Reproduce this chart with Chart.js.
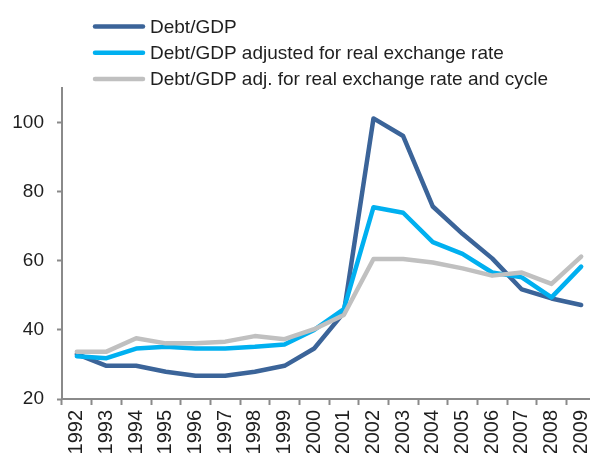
<!DOCTYPE html>
<html>
<head>
<meta charset="utf-8">
<title>Debt/GDP</title>
<script src="https://cdn.jsdelivr.net/npm/chart.js@4/dist/chart.umd.min.js"></script>
<style>
  html, body { margin: 0; padding: 0; background: #fff; overflow: hidden; }
  #wrap { width: 598px; height: 453px; }
</style>
</head>
<body>
<div id="wrap"><canvas id="debtChart" width="598" height="453"></canvas></div>
<script>
// Years on the x axis
const years = ['1992', '1993', '1994', '1995', '1996', '1997', '1998', '1999', '2000',
  '2001', '2002', '2003', '2004', '2005', '2006', '2007', '2008', '2009'];

// Series values (percent of GDP)
const debtGdp = [33.0, 29.6, 29.6, 27.9, 26.7, 26.7, 27.9, 29.6, 34.6,
  45.0, 101.2, 96.1, 75.7, 67.8, 60.7, 51.7, 49.1, 47.2];
const debtGdpRer = [32.4, 31.8, 34.6, 35.1, 34.6, 34.6, 35.1, 35.8, 40.0,
  46.0, 75.5, 73.9, 65.4, 62.0, 56.6, 55.2, 49.4, 58.3];
const debtGdpRerCycle = [33.7, 33.7, 37.6, 36.1, 36.1, 36.6, 38.2, 37.3, 40.2,
  44.3, 60.5, 60.5, 59.5, 57.8, 55.7, 56.6, 53.3, 61.2];

// Y axis range and labelled ticks
const yMin = 20;
const yMax = 110;
const yTicks = [20, 40, 60, 80, 100];

const seriesNames = [
  'Debt/GDP',
  'Debt/GDP adjusted for real exchange rate',
  'Debt/GDP adj. for real exchange rate and cycle'
];
const seriesColors = ['#3B6499', '#00B0F0', '#C0C0C0'];

const FONT = '"Liberation Sans", Arial, sans-serif';
const TEXT = '#1f1f1f';
const AXIS = '#8a8a8a';

// Legend drawn by hand: one item per row, line sample then label
const stackedLegend = {
  id: 'stackedLegend',
  afterDraw(chart) {
    const ctx = chart.ctx;
    ctx.save();
    ctx.font = '19px ' + FONT;
    ctx.textBaseline = 'middle';
    chart.data.datasets.forEach((ds, i) => {
      const y = 26.5 + i * 26.3;
      ctx.strokeStyle = ds.borderColor;
      ctx.lineWidth = 4.5;
      ctx.lineCap = 'round';
      ctx.beginPath();
      ctx.moveTo(95, y);
      ctx.lineTo(143, y);
      ctx.stroke();
      ctx.fillStyle = TEXT;
      ctx.fillText(ds.label, 150, y + 1);
    });
    ctx.restore();
  }
};

const makeSet = (i, values, order) => ({
  label: seriesNames[i],
  data: values,
  borderColor: seriesColors[i],
  backgroundColor: seriesColors[i],
  borderWidth: 4.5,
  borderJoinStyle: 'round',
  borderCapStyle: 'round',
  pointRadius: 0,
  tension: 0,
  fill: false,
  order: order
});

new Chart(document.getElementById('debtChart'), {
  type: 'line',
  data: {
    labels: years,
    datasets: [
      makeSet(0, debtGdp, 2),
      makeSet(1, debtGdpRer, 1),
      makeSet(2, debtGdpRerCycle, 0)
    ]
  },
  options: {
    responsive: false,
    animation: false,
    layout: { padding: { top: 88, left: 12, right: 2, bottom: 0 } },
    plugins: {
      legend: { display: false },
      tooltip: { enabled: false }
    },
    scales: {
      x: {
        offset: true,
        // labels run off the bottom edge like in the source image
        afterFit: (scale) => {
          scale.height = 54;
          scale.paddingLeft = 0;
          scale.paddingRight = 0;
        },
        grid: {
          offset: true,
          drawOnChartArea: false,
          drawTicks: true,
          tickLength: 6,
          tickWidth: 2,
          tickColor: AXIS
        },
        border: { color: AXIS, width: 2 },
        ticks: {
          minRotation: 90,
          maxRotation: 90,
          autoSkip: false,
          padding: 5,
          color: TEXT,
          font: { family: FONT, size: 20 }
        }
      },
      y: {
        min: yMin,
        max: yMax,
        afterBuildTicks: (scale) => {
          scale.ticks = yTicks.map((v) => ({ value: v }));
        },
        afterFit: (scale) => {
          scale.width = 50;
        },
        grid: {
          drawOnChartArea: false,
          drawTicks: true,
          tickLength: 5,
          tickWidth: 2,
          tickColor: AXIS
        },
        border: { color: AXIS, width: 2 },
        ticks: {
          padding: 13,
          color: TEXT,
          font: { family: FONT, size: 19 }
        }
      }
    }
  },
  plugins: [stackedLegend]
});
</script>
</body>
</html>
